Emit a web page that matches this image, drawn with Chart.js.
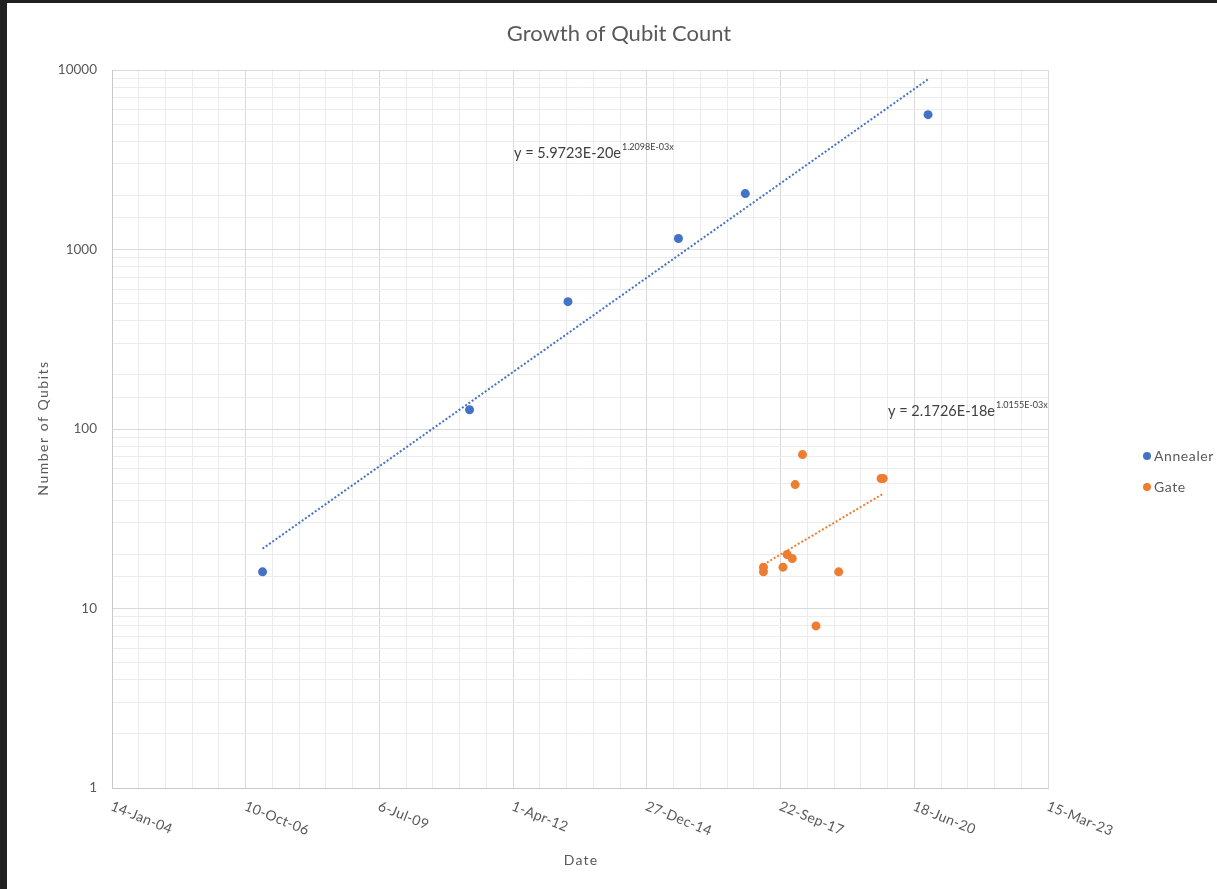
<!DOCTYPE html>
<html>
<head>
<meta charset="utf-8">
<title>Growth of Qubit Count</title>
<script src="https://cdn.jsdelivr.net/npm/chart.js@4/dist/chart.umd.min.js"></script>
<style>
  html, body { margin: 0; padding: 0; background: #212121; width: 1217px; height: 889px; overflow: hidden; }
  #wrap { position: absolute; left: 7px; top: 3px; width: 1210px; height: 886px; background: #ffffff; }
  canvas { display: block; }
</style>
</head>
<body>
<div id="wrap"><canvas id="chart" width="1210" height="886"></canvas></div>
<script>
// ---- data ----
const annealerDates  = ['2007-02-13', '2011-05-11', '2013-05-16', '2015-08-20', '2017-01-01', '2020-09-29'];
const annealerQubits = [16, 128, 512, 1152, 2048, 5640];

const gateDates  = ['2017-05-17', '2017-05-17', '2017-10-10', '2017-11-10', '2017-12-18', '2018-01-09',
                    '2018-03-05', '2018-06-14', '2018-12-01', '2019-10-14', '2019-10-29'];
const gateQubits = [17, 16, 17, 20, 19, 49, 72, 8, 16, 53, 53];

// exponential trendlines y = a * e^(b * x), x as spreadsheet day serial
const annealerFit = [5.9723e-20, 1.2098e-3];
const gateFit     = [2.1726e-18, 1.0155e-3];
const annealerEqMain = 'y = 5.9723E-20e', annealerEqSup = '1.2098E-03x';
const gateEqMain     = 'y = 2.1726E-18e', gateEqSup     = '1.0155E-03x';

const xTickLabels = ['14-Jan-04', '10-Oct-06', '6-Jul-09', '1-Apr-12', '27-Dec-14', '22-Sep-17', '18-Jun-20', '15-Mar-23'];
const yTickLabels = ['1', '10', '100', '1000', '10000'];

// ---- helpers ----
const EPOCH = Date.UTC(1899, 11, 30);
function serial(iso) {
  const [y, m, d] = iso.split('-').map(Number);
  return (Date.UTC(y, m - 1, d) - EPOCH) / 864e5;
}
function points(dates, values) {
  return dates.map((d, i) => ({ x: serial(d), y: values[i] }));
}
function trend(dates, fit) {
  const xs = dates.map(serial);
  const lo = Math.min(...xs), hi = Math.max(...xs);
  return [lo, hi].map(x => ({ x, y: fit[0] * Math.exp(fit[1] * x) }));
}

const X_MIN = 38000, X_MAX = 45000, X_MAJOR = 1000, X_MINOR = 200;
const BLUE = '#4472C4', ORANGE = '#ED7D31';
const TEXT = '#595959';
const FONT = 'Lato, "Open Sans", "Liberation Sans", sans-serif';

function isDecade(v) {
  const l = Math.log10(v);
  return Math.abs(l - Math.round(l)) < 1e-9;
}

// ---- extra text: title, axis titles, slanted date labels, legend, equations ----
const annotations = {
  id: 'annotations',
  afterDraw(chart) {
    const ctx = chart.ctx;
    const xs = chart.scales.x;
    ctx.save();
    ctx.fillStyle = TEXT;

    // title
    ctx.font = '22px ' + FONT;
    ctx.letterSpacing = '0px';
    ctx.textAlign = 'center';
    ctx.textBaseline = 'middle';
    ctx.fillText('Growth of Qubit Count', 612, 31);

    // date tick labels, slanted downward
    ctx.font = '14px ' + FONT;
    ctx.letterSpacing = '0.3px';
    xTickLabels.forEach((lab, i) => {
      const px = xs.getPixelForValue(X_MIN + i * X_MAJOR);
      ctx.save();
      ctx.translate(px + 2, 796);
      ctx.rotate(22 * Math.PI / 180);
      ctx.textAlign = 'left';
      ctx.textBaseline = 'top';
      ctx.fillText(lab, 0, 0);
      ctx.restore();
    });

    // axis titles
    ctx.font = '14px ' + FONT;
    ctx.letterSpacing = '1.2px';
    ctx.textAlign = 'center';
    ctx.textBaseline = 'middle';
    ctx.fillText('Date', 574, 857);
    ctx.save();
    ctx.translate(36, 425);
    ctx.rotate(-Math.PI / 2);
    ctx.letterSpacing = '1.5px';
    ctx.fillText('Number of Qubits', 0, 0);
    ctx.restore();

    // legend
    ctx.letterSpacing = '0.6px';
    const legendItems = chart.data.datasets.filter(d => d.inLegend);
    legendItems.forEach((d, i) => {
      const y = 453 + i * 31;
      ctx.fillStyle = d.backgroundColor;
      ctx.beginPath();
      ctx.arc(1140, y, 4, 0, Math.PI * 2);
      ctx.fill();
      ctx.fillStyle = TEXT;
      ctx.textAlign = 'left';
      ctx.textBaseline = 'middle';
      ctx.font = '14px ' + FONT;
      ctx.fillText(d.label, 1147, y);
    });

    // trendline equations
    ctx.letterSpacing = '0px';
    function equation(main, sup, x, y) {
      ctx.fillStyle = '#404040';
      ctx.textAlign = 'left';
      ctx.textBaseline = 'alphabetic';
      ctx.font = '14.5px ' + FONT;
      ctx.fillText(main, x, y);
      const w = ctx.measureText(main).width;
      ctx.font = '9px ' + FONT;
      ctx.fillText(sup, x + w + 1, y - 8);
    }
    equation(annealerEqMain, annealerEqSup, 507, 155);
    equation(gateEqMain, gateEqSup, 881, 413);

    ctx.restore();
  }
};

new Chart(document.getElementById('chart'), {
  type: 'scatter',
  data: {
    datasets: [
      {
        label: 'Annealer', inLegend: true,
        data: points(annealerDates, annealerQubits),
        backgroundColor: BLUE, borderWidth: 0, pointRadius: 4.5, pointHoverRadius: 4.5, order: 1
      },
      {
        label: 'Gate', inLegend: true,
        data: points(gateDates, gateQubits),
        backgroundColor: ORANGE, borderWidth: 0, pointRadius: 4.5, pointHoverRadius: 4.5, order: 1
      },
      {
        label: 'Annealer trend',
        data: trend(annealerDates, annealerFit),
        showLine: true, borderColor: BLUE, borderWidth: 2, borderDash: [2, 2],
        pointRadius: 0, fill: false, order: 2
      },
      {
        label: 'Gate trend',
        data: trend(gateDates, gateFit),
        showLine: true, borderColor: ORANGE, borderWidth: 2, borderDash: [2, 2],
        pointRadius: 0, fill: false, order: 2
      }
    ]
  },
  options: {
    responsive: false,
    animation: false,
    devicePixelRatio: 1,
    layout: { padding: { top: 67, right: 169, left: 0, bottom: 0 } },
    plugins: { legend: { display: false }, tooltip: { enabled: false }, title: { display: false } },
    scales: {
      x: {
        type: 'linear',
        min: X_MIN, max: X_MAX,
        afterFit(scale) { scale.height = 101; },
        ticks: { display: false, stepSize: X_MINOR },
        grid: {
          drawTicks: false,
          color: c => (Math.round(c.tick.value) % X_MAJOR === 0 ? '#d9d9d9' : '#ececec'),
          lineWidth: 1
        },
        border: { display: true, color: '#c8c8c8' }
      },
      y: {
        type: 'logarithmic',
        min: 1, max: 10000,
        afterFit(scale) { scale.width = 105; },
        ticks: {
          autoSkip: false,
          padding: 15,
          color: TEXT,
          font: { family: FONT, size: 13.5 },
          callback: v => (isDecade(v) ? yTickLabels[Math.round(Math.log10(v))] : '')
        },
        grid: {
          drawTicks: false,
          color: c => (isDecade(c.tick.value) ? '#d9d9d9' : '#ececec'),
          lineWidth: 1
        },
        border: { display: true, color: '#c8c8c8' }
      }
    }
  },
  plugins: [annotations]
});
</script>
</body>
</html>
